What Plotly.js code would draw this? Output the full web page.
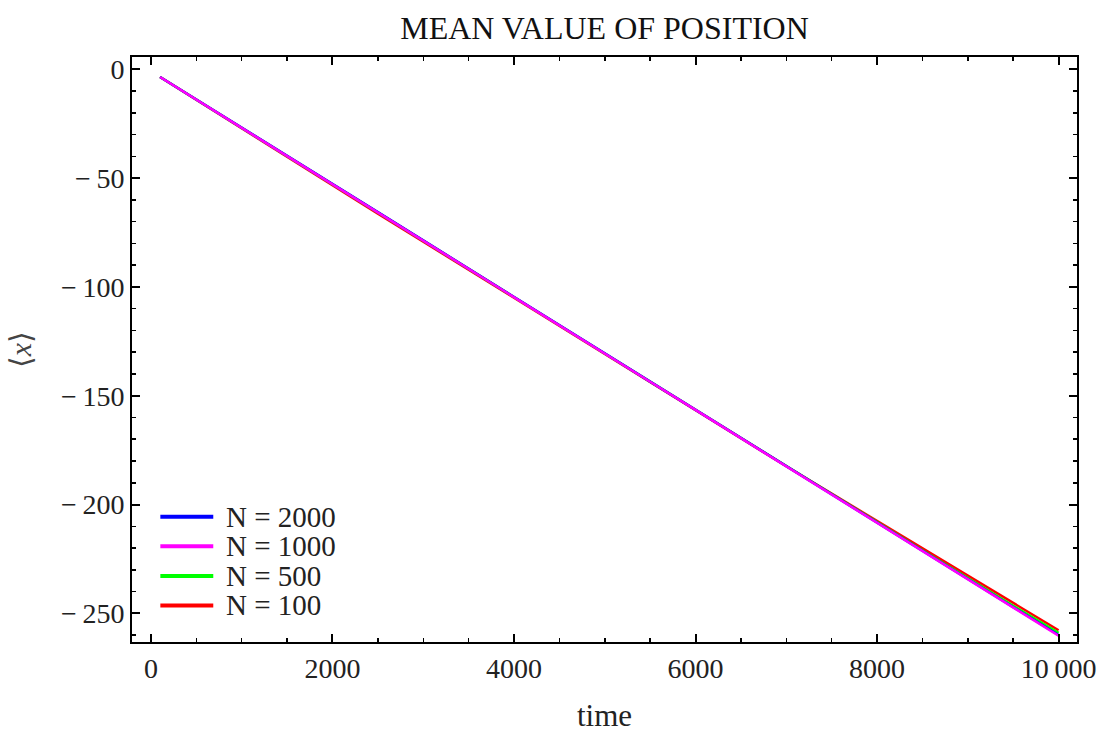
<!DOCTYPE html>
<html>
<head>
<meta charset="utf-8">
<script src="https://cdn.plot.ly/plotly-3.0.1.min.js"></script>
<style>
  html, body { margin: 0; padding: 0; background: #fff; }
  #chart { width: 1102px; height: 733px; }
</style>
</head>
<body>
<div id="chart"></div>
<script>
// Simulation time samples
const time = [100, 500, 1000, 1500, 2000, 2500, 3000, 3500, 4000, 4500, 5000,
              5500, 6000, 6500, 7000, 7500, 8000, 8500, 9000, 9500, 10000];

// Mean position <x> for each ensemble size N
const meanN2000 = [-3.5, -13.8, -26.7, -39.7, -52.6, -65.6, -78.6, -91.5, -104.5, -117.5, -130.5,
                   -143.5, -156.5, -169.4, -182.4, -195.4, -208.4, -221.4, -234.3, -247.2, -260.0];
const meanN1000 = [-3.5, -13.9, -26.8, -39.8, -52.8, -65.8, -78.7, -91.7, -104.7, -117.6, -130.6,
                   -143.6, -156.5, -169.5, -182.5, -195.5, -208.5, -221.4, -234.4, -247.4, -260.3];
const meanN500  = [-3.5, -13.9, -26.8, -39.8, -52.9, -65.8, -78.8, -91.8, -104.7, -117.6, -130.6,
                   -143.5, -156.5, -169.4, -182.3, -195.2, -208.1, -221.0, -233.9, -246.6, -259.0];
const meanN100  = [-3.5, -14.0, -27.0, -40.1, -53.2, -66.3, -79.2, -92.1, -105.1, -118.0, -130.9,
                   -143.8, -156.6, -169.5, -182.4, -195.0, -207.6, -220.3, -233.0, -245.5, -257.8];

const seriesNames = ['N = 2000', 'N = 1000', 'N = 500', 'N = 100'];
const seriesColors = ['#0000ff', '#ff00ff', '#00ff00', '#ff0000'];

// Tick labels
const xTickVals = [0, 2000, 4000, 6000, 8000, 10000];
const xTickText = ['0', '2000', '4000', '6000', '8000', '10\u2009000'];
const yTickVals = [0, -50, -100, -150, -200, -250];
const yTickText = ['0', '\u2212\u200950', '\u2212\u2009100', '\u2212\u2009150', '\u2212\u2009200', '\u2212\u2009250'];

const FONT = 'Liberation Serif, Times New Roman, serif';

function line(y, idx) {
  return {
    x: time, y: y, type: 'scatter', mode: 'lines',
    name: seriesNames[idx], showlegend: false,
    line: { color: seriesColors[idx], width: 2.5 }
  };
}

// Drawn from the smallest ensemble up so the large-N curves sit on top
const data = [
  line(meanN100, 3),
  line(meanN500, 2),
  line(meanN2000, 0),
  line(meanN1000, 1)
];

// Legend block in the lower-left corner of the frame: a colour swatch and a label per series
const legendX0 = 0.030, legendX1 = 0.086, legendTextX = 0.097;
const legendTop = 0.214, legendStep = 0.0505;
const legendShapes = seriesNames.map((name, i) => ({
  type: 'line', xref: 'paper', yref: 'paper',
  x0: legendX0, x1: legendX1,
  y0: legendTop - i * legendStep, y1: legendTop - i * legendStep,
  line: { color: seriesColors[i], width: 4 }
}));
const legendLabels = seriesNames.map((name, i) => ({
  xref: 'paper', yref: 'paper', x: legendTextX, y: legendTop - i * legendStep,
  xanchor: 'left', yanchor: 'middle', showarrow: false, text: name,
  font: { family: FONT, size: 29, color: '#222' }
}));

const axisCommon = {
  showline: true, mirror: 'allticks', linecolor: '#000', linewidth: 2,
  ticks: 'inside', ticklen: 8, tickwidth: 2, tickcolor: '#000',
  showgrid: false, zeroline: false,
  tickfont: { family: FONT, size: 28, color: '#222' }
};

const layout = {
  width: 1102, height: 733,
  paper_bgcolor: '#fff', plot_bgcolor: '#fff',
  margin: { l: 132, r: 25, t: 57, b: 91 },
  showlegend: false,
  title: {
    text: 'MEAN VALUE OF POSITION',
    font: { family: FONT, size: 32, color: '#111' },
    x: 0.5, xref: 'paper', y: 0.962, yref: 'container', yanchor: 'middle'
  },
  xaxis: Object.assign({}, axisCommon, {
    range: [-209, 10203],
    tickvals: xTickVals, ticktext: xTickText,
    minor: { dtick: 500, ticks: 'inside', ticklen: 4, tickwidth: 1.5, tickcolor: '#000' },
    title: { text: 'time', font: { family: FONT, size: 31, color: '#222' }, standoff: 22 }
  }),
  yaxis: Object.assign({}, axisCommon, {
    range: [-263.2, 5.7],
    tickvals: yTickVals, ticktext: yTickText,
    minor: { dtick: 10, ticks: 'inside', ticklen: 4, tickwidth: 1.5, tickcolor: '#000' },
    title: { text: '\u27e8<i>x</i>\u27e9', font: { family: FONT, size: 30, color: '#444' }, standoff: 20 }
  }),
  shapes: legendShapes,
  annotations: legendLabels
};

Plotly.newPlot('chart', data, layout, { displayModeBar: false, staticPlot: true });
</script>
</body>
</html>
